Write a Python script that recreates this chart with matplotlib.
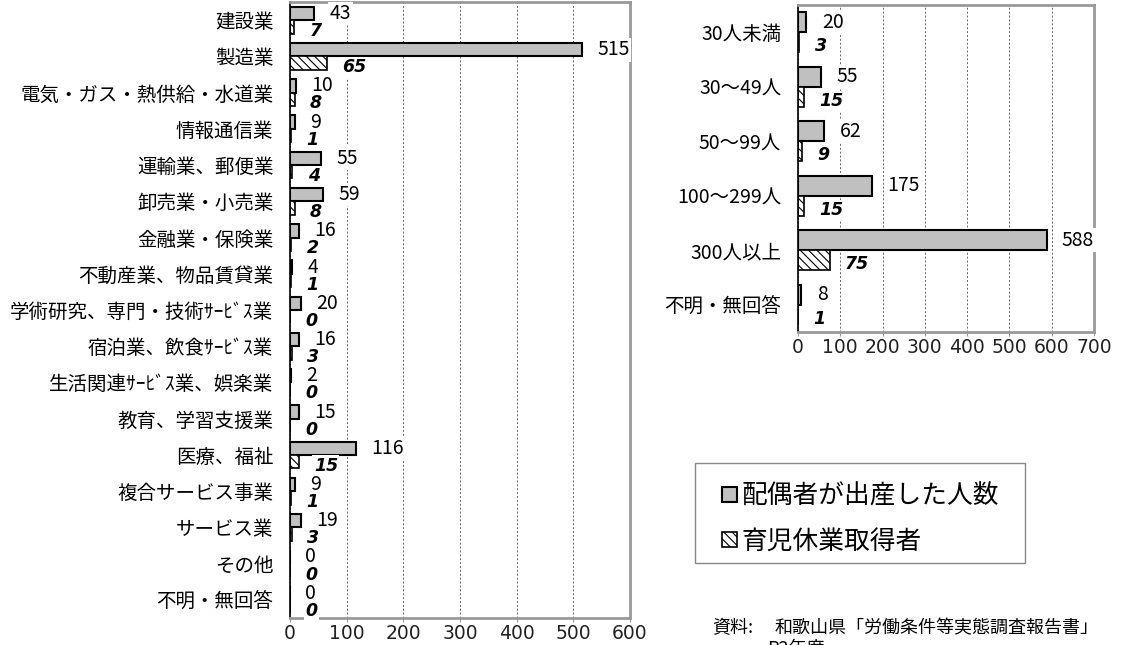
import numpy as np
import matplotlib
matplotlib.use('Agg')
import matplotlib.pyplot as plt
from matplotlib.patches import Patch, Rectangle

plt.rcParams['font.family'] = ['Noto Sans CJK JP', 'DejaVu Sans']
plt.rcParams['hatch.linewidth'] = 0.8

# industry breakdown
industries = ['建設業', '製造業', '電気・ガス・熱供給・水道業', '情報通信業', '運輸業、郵便業',
              '卸売業・小売業', '金融業・保険業', '不動産業、物品賃貸業',
              '学術研究、専門・技術ｻｰﾋﾞｽ業', '宿泊業、飲食ｻｰﾋﾞｽ業', '生活関連ｻｰﾋﾞｽ業、娯楽業',
              '教育、学習支援業', '医療、福祉', '複合サービス事業', 'サービス業', 'その他', '不明・無回答']
ind_births = [43, 515, 10, 9, 55, 59, 16, 4, 20, 16, 2, 15, 116, 9, 19, 0, 0]
ind_leave = [7, 65, 8, 1, 4, 8, 2, 1, 0, 3, 0, 0, 15, 1, 3, 0, 0]

# company size breakdown
sizes = ['30人未満', '30～49人', '50～99人', '100～299人', '300人以上', '不明・無回答']
size_births = [20, 55, 62, 175, 588, 8]
size_leave = [3, 15, 9, 15, 75, 1]

labels = ['配偶者が出産した人数', '育児休業取得者']
GRAY = '#c0c0c0'
HATCH = '\\\\\\\\'
H = 0.37


def draw(ax, cats, s1, s2, xmax):
    y = np.arange(len(cats))
    ax.barh(y - H/2, s1, height=H, color=GRAY, edgecolor='black', lw=1.5, zorder=2)
    ax.barh(y + H/2, s2, height=H, color='white', hatch=HATCH, edgecolor='black', lw=1.2, zorder=2)
    bb = dict(facecolor='white', edgecolor='none', pad=1)
    for i in range(len(cats)):
        ax.annotate(str(s1[i]), xy=(s1[i], y[i] - H/2), xytext=(11, 0), textcoords='offset points',
                    va='center', ha='left', fontsize=14, bbox=bb, zorder=5, annotation_clip=False)
        ax.annotate(str(s2[i]), xy=(s2[i], y[i] + H/2), xytext=(11, -3), textcoords='offset points',
                    va='center', ha='left', fontsize=12.5, fontweight='bold', style='italic',
                    family='DejaVu Sans', bbox=bb, zorder=5, annotation_clip=False)
    ax.set_yticks(y)
    ax.set_yticklabels(cats, fontsize=14)
    ax.set_ylim(len(cats) - 0.5, -0.5)
    ax.set_xlim(0, xmax)
    ax.set_xticks(np.arange(0, xmax + 1, 100))
    ax.set_xticklabels([str(v) for v in range(0, xmax + 1, 100)], family='DejaVu Sans',
                       fontsize=13.5, color='#222222')
    ax.tick_params(axis='y', length=0, pad=12)
    ax.tick_params(axis='x', length=3, color='#999999', pad=1)
    ax.xaxis.grid(True, ls=(0, (2, 2)), color='#666666', lw=0.7)
    ax.set_axisbelow(True)
    for s in ['top', 'right', 'bottom']:
        ax.spines[s].set_color('#999999')
        ax.spines[s].set_linewidth(2)
    ax.spines['left'].set_color('black')
    ax.spines['left'].set_linewidth(1.2)


fig = plt.figure(figsize=(11.25, 6.45), dpi=100)
ax1 = fig.add_axes([290/1125, 1 - 618/645, 340/1125, 616/645])
ax2 = fig.add_axes([798/1125, 1 - 332/645, 296/1125, 327/645])
draw(ax1, industries, ind_births, ind_leave, 600)
draw(ax2, sizes, size_births, size_leave, 700)

# legend box
fig.patches.append(Rectangle((695/1125, 1 - 563/645), 330/1125, 100/645, transform=fig.transFigure,
                             facecolor='white', edgecolor='#888888', lw=1, zorder=1))
handles = [Patch(facecolor=GRAY, edgecolor='black', lw=1.5),
           Patch(facecolor='white', edgecolor='black', hatch=HATCH, lw=1.2)]
leg = fig.legend(handles, labels, loc='upper left', bbox_to_anchor=(707/1125, 1 - 468/645),
                 fontsize=18.5, handlelength=0.55, handleheight=0.55, handletextpad=0.2,
                 borderpad=0.6, labelspacing=0.75, frameon=False, borderaxespad=0)
leg.get_texts()[1].set_style('italic')

fig.text(712/1125, 1 - 619/645, '資料:', va='top', ha='left', fontsize=13)
fig.text(775/1125, 1 - 619/645, '和歌山県「労働条件等実態調査報告書」', va='top', ha='left', fontsize=13)
fig.text(767/1125, 1 - 640/645, 'R2年度', va='top', ha='left', fontsize=13)

fig.savefig('out.png', dpi=100)
